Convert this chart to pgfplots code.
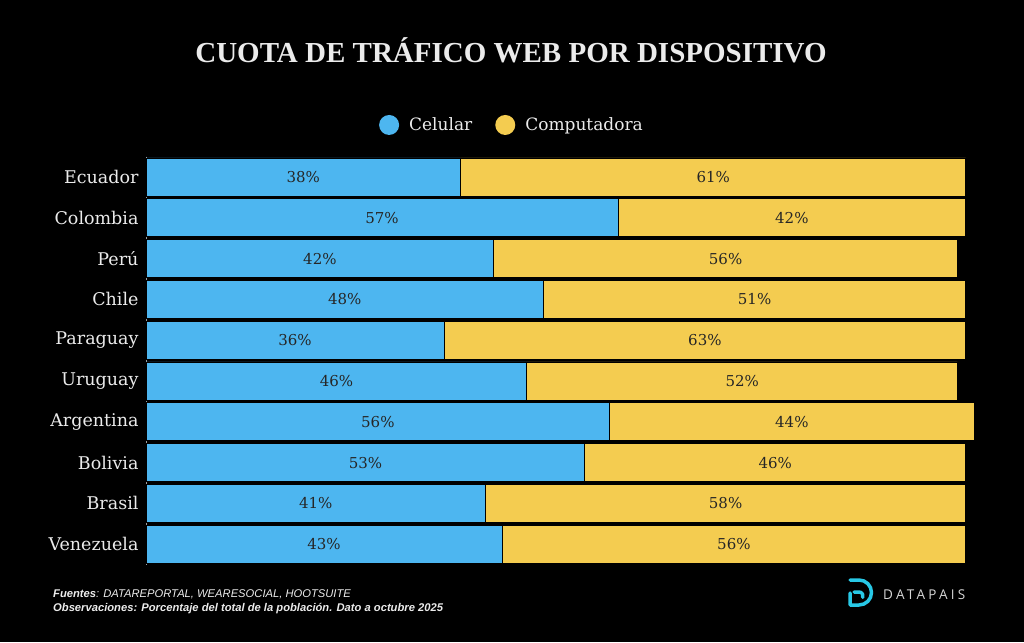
\documentclass[border=0pt]{standalone}
\usepackage{pgfplots}
\pgfplotsset{compat=1.18}
\usepackage{pgfplotstable}
\usepackage{fontspec}
\setmainfont{DejaVu Serif}
\newfontfamily\titlefont{Liberation Serif}
\newfontfamily\footfont{Liberation Sans}
\newfontfamily\logofont[LetterSpace=24]{Open Sans}
\definecolor{celc}{RGB}{77,182,240}
\definecolor{compc}{RGB}{244,204,80}
\definecolor{txtw}{RGB}{235,235,235}

\pgfplotstableread{
idx name cel comp
0 Ecuador 38 61
1 Colombia 57 42
2 Perú 42 56
3 Chile 48 51
4 Paraguay 36 63
5 Uruguay 46 52
6 Argentina 56 44
7 Bolivia 53 46
8 Brasil 41 58
9 Venezuela 43 56
}\datatab

\begin{document}
\begin{tikzpicture}[x=1pt,y=1pt]
\fill[black] (0,0) rectangle (1024,642);
\node[anchor=base, text=txtw, inner sep=0pt] at (511,579)
  {\titlefont\bfseries\fontsize{29}{29}\selectfont CUOTA DE TRÁFICO WEB POR DISPOSITIVO};

\begin{axis}[
  at={(146pt,77.4pt)}, anchor=south west,
  width=828pt, height=408pt, scale only axis,
  xmin=0, xmax=100, ymin=-0.5, ymax=9.5,
  y dir=reverse,
  xbar stacked, bar width=38pt,
  axis x line=none,
  axis y line*=left,
  y axis line style={-, draw=gray!75, line width=0.6pt},
  ytick=data,
  yticklabels from table={\datatab}{name},
  major tick length=0pt,
  yticklabel style={text=txtw, font=\fontsize{17.5}{17.5}\selectfont, xshift=-4pt},
  legend image code/.code={\fill[#1,draw=none] (0pt,0pt) circle (10pt);},
  legend style={at={(0.442,1.0775)}, anchor=center, draw=none, fill=none,
    text=txtw, font=\fontsize{17}{17}\selectfont,
    /tikz/every odd column/.append style={column sep=8pt},
    /tikz/every even column/.append style={column sep=21pt}},
  legend columns=2,
  clip=false,
]
\addplot[fill=celc, draw=black, line width=0.8pt] table[x=cel, y=idx]{\datatab};
\addplot[fill=compc, draw=black, line width=0.8pt] table[x=comp, y=idx]{\datatab};
\legend{Celular, Computadora}
\end{axis}

\begin{axis}[
  at={(146pt,77.4pt)}, anchor=south west,
  width=828pt, height=408pt, scale only axis,
  xmin=0, xmax=100, ymin=-0.5, ymax=9.5,
  y dir=reverse, hide axis, clip=false,
  /pgf/number format/assume math mode=true,
  nodes near coords={\pgfmathprintnumber{\pgfplotspointmeta}\%},
  every node near coord/.append style={anchor=center, text=black!85,
    font=\fontsize{15}{15}\selectfont},
]
\addplot[draw=none, mark=none, point meta=explicit]
  table[x expr=\thisrow{cel}/2, y=idx, meta=cel]{\datatab};
\addplot[draw=none, mark=none, point meta=explicit]
  table[x expr=\thisrow{cel}+\thisrow{comp}/2, y=idx, meta=comp]{\datatab};
\end{axis}

\node[anchor=base west, text=txtw, inner sep=0pt] at (53,44.5)
  {\footfont\fontsize{11.2}{11.2}\selectfont\itshape\textbf{Fuentes}: DATAREPORTAL, WEARESOCIAL, HOOTSUITE};
\node[anchor=base west, text=txtw, inner sep=0pt] at (53,31)
  {\footfont\fontsize{11.2}{11.2}\selectfont\itshape\bfseries Observaciones: Porcentaje del total de la población. Dato a octubre 2025};

\draw[color={rgb,255:red,40;green,200;blue,230}, line width=3.5pt, line cap=round, line join=round]
  (850,49) -- (850,37) -- (859,37) arc[start angle=-90, end angle=90, radius=12.5] -- (850,62);
\draw[color={rgb,255:red,40;green,200;blue,230}, line width=3.5pt, line cap=round]
  (854,50) -- (859,50) arc[start angle=90, end angle=-20, radius=4];
\node[anchor=base west, inner sep=0pt, text={rgb,255:red,215;green,215;blue,215}] at (883,42.5)
  {\logofont\fontsize{13.5}{13.5}\selectfont DATAPAIS};
\end{tikzpicture}
\end{document}
